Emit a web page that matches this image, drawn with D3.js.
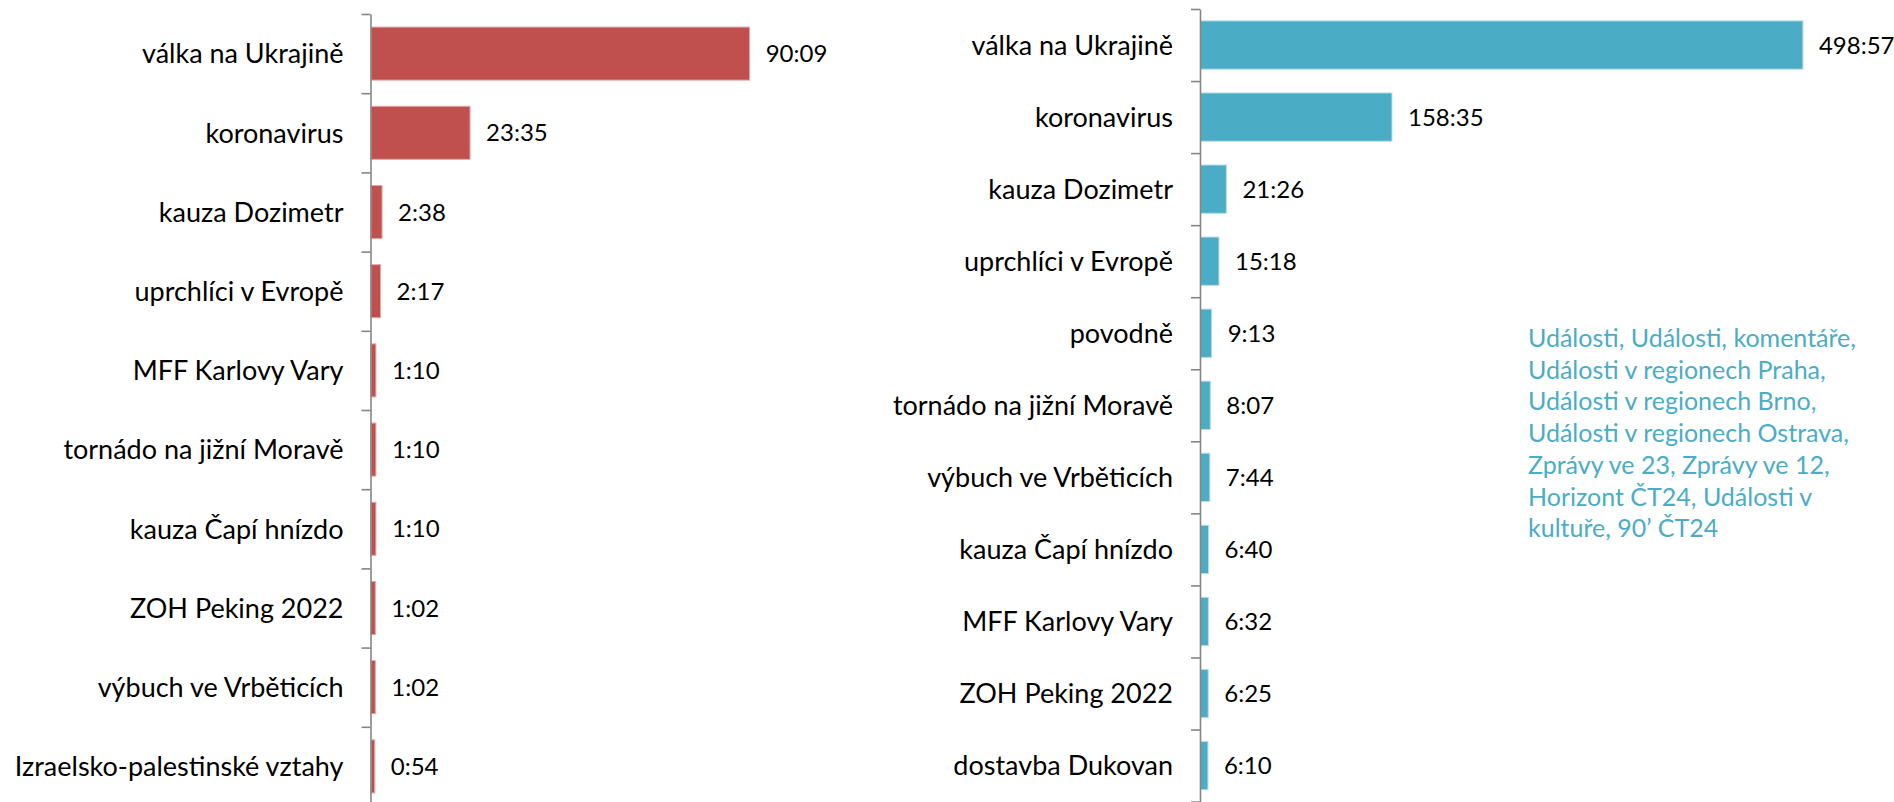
<!DOCTYPE html>
<meta charset="utf-8">
<style>
html, body { margin: 0; padding: 0; background: #fff; }
svg text { font-family: Lato, "Open Sans", sans-serif; }
</style>
<body>
<script src="https://d3js.org/d3.v7.min.js"></script>
<script>

var width = 1894,
    height = 802;

// left chart (red)
var leftTopics = ["válka na Ukrajině", "koronavirus", "kauza Dozimetr", "uprchlíci v Evropě",
  "MFF Karlovy Vary", "tornádo na jižní Moravě", "kauza Čapí hnízdo", "ZOH Peking 2022",
  "výbuch ve Vrběticích", "Izraelsko-palestinské vztahy"];
var leftTimes = ["90:09", "23:35", "2:38", "2:17", "1:10", "1:10", "1:10", "1:02", "1:02", "0:54"];

// right chart (blue)
var rightTopics = ["válka na Ukrajině", "koronavirus", "kauza Dozimetr", "uprchlíci v Evropě",
  "povodně", "tornádo na jižní Moravě", "výbuch ve Vrběticích", "kauza Čapí hnízdo",
  "MFF Karlovy Vary", "ZOH Peking 2022", "dostavba Dukovan"];
var rightTimes = ["498:57", "158:35", "21:26", "15:18", "9:13", "8:07", "7:44", "6:40", "6:32", "6:25", "6:10"];

var noteLines = ["Události, Události, komentáře,", "Události v regionech Praha,",
  "Události v regionech Brno,", "Události v regionech Ostrava,", "Zprávy ve 23, Zprávy ve 12,",
  "Horizont ČT24, Události v", "kultuře, 90’ ČT24"];

function toMinutes(t) {
  var p = t.split(":");
  return +p[0] + p[1] / 60;
}

var svg = d3.select("body").append("svg")
    .attr("width", width)
    .attr("height", height);

function drawChart(topics, times, opt) {
  var g = svg.append("g");
  var n = topics.length;

  var y = d3.scaleBand()
      .domain(topics)
      .range(opt.yRange)
      .paddingInner(0.33)
      .paddingOuter(0.165);

  var yEdge = d3.scaleLinear().domain([0, n]).range(opt.yRange);

  var x = d3.scaleLinear()
      .domain([0, opt.xMax])
      .range(opt.xRange);

  g.selectAll("rect")
    .data(topics)
    .enter().append("rect")
      .attr("x", x(0))
      .attr("y", function(d) { return y(d); })
      .attr("width", function(d, i) { return x(toMinutes(times[i])) - x(0); })
      .attr("height", y.bandwidth())
      .attr("fill", opt.color)
      .attr("stroke", opt.edge)
      .attr("stroke-width", 1);

  g.selectAll("text.val")
    .data(topics)
    .enter().append("text")
      .attr("class", "val")
      .attr("x", function(d, i) { return x(toMinutes(times[i])) + 16; })
      .attr("y", function(d) { return y(d) + y.bandwidth() / 2; })
      .attr("dy", "0.36em")
      .attr("font-size", 24)
      .attr("fill", "#000")
      .text(function(d, i) { return times[i]; });

  // axis line with ticks between categories
  var axis = g.append("g")
      .attr("transform", "translate(" + (x(0) - 0.5) + ",0)")
      .call(d3.axisLeft(yEdge).tickValues(d3.range(n + 1)).tickSize(9).tickSizeOuter(0).tickFormat(""));
  axis.selectAll("path, line").attr("stroke", "#868686").attr("stroke-width", 1.6);

  var labels = g.append("g")
      .attr("transform", "translate(" + (x(0) - 0.5) + ",0)")
      .call(d3.axisLeft(y).tickSize(0).tickPadding(27));
  labels.select(".domain").remove();
  labels.selectAll("text")
      .attr("font-size", 27)
      .attr("font-family", "Lato, sans-serif")
      .attr("fill", "#000")
      .attr("dy", "0.36em");
}

drawChart(leftTopics, leftTimes, {
  yRange: [14, 806], xRange: [371, 791], xMax: 100,
  color: "#c0504d", edge: "#e2a9a7"
});

drawChart(rightTopics, rightTimes, {
  yRange: [9, 801.6], xRange: [1200.5, 1804.2], xMax: 500,
  color: "#4bacc6", edge: "#b7dde8"
});

svg.append("text")
    .attr("x", 1528)
    .attr("y", 347)
    .attr("font-size", 25)
    .attr("fill", "#4bacc6")
  .selectAll("tspan")
  .data(noteLines)
  .enter().append("tspan")
    .attr("x", 1528)
    .attr("dy", function(d, i) { return i ? 31.7 : 0; })
    .text(function(d) { return d; });

</script>
</body>
